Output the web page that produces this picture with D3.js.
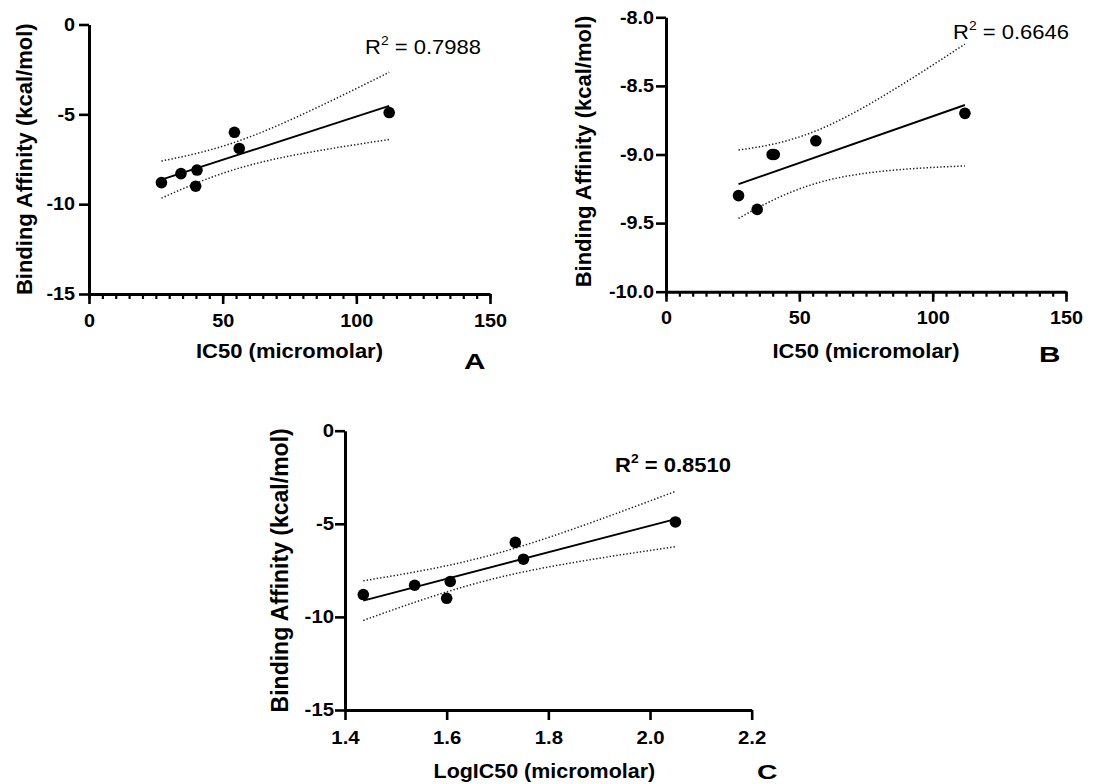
<!DOCTYPE html>
<html><head><meta charset="utf-8">
<script src="https://cdn.jsdelivr.net/npm/d3@7"></script>
<style>
body{margin:0;background:#fff}
svg{display:block}
text{font-family:"Liberation Sans",Arial,Helvetica,sans-serif;fill:#000}
</style>
</head><body>
<svg id="c" width="1097" height="784"></svg>
<script>
// ---- data ----
const ic50A      = [27.1, 34.4, 40.4, 39.9, 54.4, 56.2, 112.3];
const affinityA  = [-8.8, -8.3, -8.1, -9.0, -6.0, -6.9, -4.9];
const ic50B      = [27.2, 34.2, 39.8, 40.6, 56.2, 112.1];
const affinityB  = [-9.3, -9.4, -9.0, -9.0, -8.9, -8.7];
const logIC50C   = [1.436, 1.537, 1.607, 1.600, 1.735, 1.751, 2.050];
const affinityC  = [-8.8, -8.3, -8.1, -9.0, -6.0, -6.9, -4.9];

const xTicksAB   = [0, 50, 100, 150];
const yTicksA    = [0, -5, -10, -15];
const yTicksB    = [-8.0, -8.5, -9.0, -9.5, -10.0];
const xTicksC    = [1.4, 1.6, 1.8, 2.0, 2.2];
const yTicksC    = [0, -5, -10, -15];
const r2Values   = ["0.7988", "0.6646", "0.8510"];
const panelNames = ["A", "B", "C"];
const xTitles    = ["IC50 (micromolar)", "IC50 (micromolar)", "LogIC50 (micromolar)"];
const yTitle     = "Binding Affinity (kcal/mol)";

const SX = 1.1;
const svg = d3.select("#c");
const TCRIT = {4: 2.7764, 5: 2.5706};
const loc = d3.formatLocale({decimal:".", thousands:",", grouping:[3], currency:["",""], minus:"-"});

function fit(xs, ys){
  const n = xs.length, mx = d3.mean(xs), my = d3.mean(ys);
  let sxx=0, sxy=0, syy=0;
  xs.forEach((x,i)=>{const dx=x-mx, dy=ys[i]-my; sxx+=dx*dx; sxy+=dx*dy; syy+=dy*dy;});
  const b = sxy/sxx, a = my - b*mx;
  const s = Math.sqrt((syy - b*sxy)/(n-2));
  const t = TCRIT[n-2];
  return {
    yhat: x => a + b*x,
    half: x => t*s*Math.sqrt(1/n + (x-mx)*(x-mx)/sxx)
  };
}

function stretchText(g, x, y, str, o){
  return g.append("text")
    .attr("transform", `translate(${x},${y}) scale(${o.sx||SX},1)`)
    .attr("text-anchor", o.anchor||"start")
    .style("font-size", o.size+"px")
    .style("font-weight", o.weight||"bold")
    .text(str);
}

function r2Label(g, x, y, val, bold, size){
  const t = g.append("text")
    .attr("transform", `translate(${x},${y}) scale(${SX},1)`)
    .style("font-size", size+"px")
    .style("font-weight", bold ? "bold" : "normal");
  t.append("tspan").text("R");
  t.append("tspan").attr("dy", -9.5).style("font-size", (size*0.63)+"px").text("2");
  t.append("tspan").attr("dy", 9.5).text(" = " + val);
}

function panel(c){
  const g = svg.append("g");
  const x = d3.scaleLinear().domain(c.xDomain).range([c.left, c.right]);
  const y = d3.scaleLinear().domain(c.yDomain).range([c.bottom, c.top]);
  const f = fit(c.xs, c.ys);
  const [xmin, xmax] = d3.extent(c.xs);
  const samp = d3.range(61).map(i => xmin + (xmax-xmin)*i/60);

  const line = d3.line().x(d=>x(d[0])).y(d=>y(d[1]));
  [1,-1].forEach(sgn=>{
    g.append("path")
      .attr("d", line(samp.map(v=>[v, f.yhat(v)+sgn*f.half(v)])))
      .attr("fill","none").attr("stroke","#222").attr("stroke-width",1.5)
      .attr("stroke-dasharray","1.4,2");
  });
  g.append("path")
    .attr("d", line([[xmin, f.yhat(xmin)],[xmax, f.yhat(xmax)]]))
    .attr("fill","none").attr("stroke","#000").attr("stroke-width",1.9);
  g.selectAll("circle.pt").data(c.xs.map((v,i)=>[v,c.ys[i]])).join("circle")
    .attr("class","pt").attr("cx",d=>x(d[0])).attr("cy",d=>y(d[1])).attr("r",5.8).attr("fill","#000");

  if (c.minor){
    const gm = g.append("g").attr("transform",`translate(0,${c.bottom})`)
      .call(d3.axisBottom(x).tickValues(c.minor).tickSize(5).tickFormat(""));
    gm.select(".domain").remove();
    gm.selectAll(".tick line").attr("stroke","#000").attr("stroke-width",2.2);
  }
  const gx = g.append("g").attr("transform",`translate(0,${c.bottom})`)
    .call(d3.axisBottom(x).tickValues(c.xTicks).tickSize(10).tickSizeOuter(0)
      .tickPadding(c.xPad).tickFormat(c.xFmt));
  const gy = g.append("g").attr("transform",`translate(${c.left},0)`)
    .call(d3.axisLeft(y).tickValues(c.yTicks).tickSize(10).tickSizeOuter(0)
      .tickPadding(c.yPad).tickFormat(c.yFmt));
  [gx, gy].forEach(a=>{
    a.attr("font-family", null).attr("font-size", null);
    a.select(".domain").attr("stroke","#000").attr("stroke-width",3);
    a.selectAll(".tick line").attr("stroke","#000").attr("stroke-width",2.6);
    a.selectAll(".tick text").style("font-size", c.tickSize+"px").style("font-weight","bold")
      .attr("fill","#000").attr("transform",`scale(${SX},1)`);
  });
  gy.selectAll(".tick text").attr("x", -(10 + c.yPad)/SX);

  stretchText(g, (c.left+c.right)/2 + c.xTitleDx, c.xTitleY, c.xTitle, {size:c.xTitleSize, anchor:"middle"});
  g.append("text")
    .attr("transform", `translate(${c.yTitleX},${(c.top+c.bottom)/2 + c.yTitleDy}) rotate(-90)`)
    .attr("text-anchor","middle").style("font-size", c.yTitleSize+"px").style("font-weight","bold")
    .text(yTitle);
  r2Label(g, c.r2x, c.r2y, c.r2, c.r2bold, 20);
  stretchText(g, c.labX, c.labY, c.label, {size:c.labSize||22, sx:1.35});
}

const minorAB = d3.range(0, 151, 5);

panel({xs: ic50A, ys: affinityA, xDomain:[0,150], yDomain:[-15,0],
  left:89, right:490, top:24.5, bottom:294,
  xTicks:xTicksAB, yTicks:yTicksA, minor:minorAB, xFmt:loc.format("d"), yFmt:loc.format("d"),
  xPad:10, yPad:4, tickSize:18,
  xTitle:xTitles[0], xTitleDx:0, xTitleY:358, xTitleSize:20,
  yTitleX:32, yTitleDy:0, yTitleSize:22,
  r2:r2Values[0], r2bold:false, r2x:365, r2y:54,
  label:panelNames[0], labX:464, labY:369});

panel({xs: ic50B, ys: affinityB, xDomain:[0,150], yDomain:[-10,-8],
  left:666, right:1066, top:17.3, bottom:291.7,
  xTicks:xTicksAB, yTicks:yTicksB, minor:minorAB, xFmt:loc.format("d"), yFmt:loc.format(".1f"),
  xPad:10, yPad:2, tickSize:18,
  xTitle:xTitles[1], xTitleDx:0, xTitleY:358, xTitleSize:20,
  yTitleX:591, yTitleDy:-3, yTitleSize:22,
  r2:r2Values[1], r2bold:false, r2x:953, r2y:39,
  label:panelNames[1], labX:1039, labY:362});

panel({xs: logIC50C, ys: affinityC, xDomain:[1.4,2.2], yDomain:[-15,0],
  left:345, right:751.7, top:430.7, bottom:710,
  xTicks:xTicksC, yTicks:yTicksC, minor:null, xFmt:loc.format(".1f"), yFmt:loc.format("d"),
  xPad:11, yPad:1, tickSize:18.5,
  xTitle:xTitles[2], xTitleDx:-4, xTitleY:778, xTitleSize:19.5,
  yTitleX:288, yTitleDy:0, yTitleSize:23,
  r2:r2Values[2], r2bold:true, r2x:615, r2y:472,
  label:panelNames[2], labX:757, labY:779, labSize:21});
</script>
</body></html>
